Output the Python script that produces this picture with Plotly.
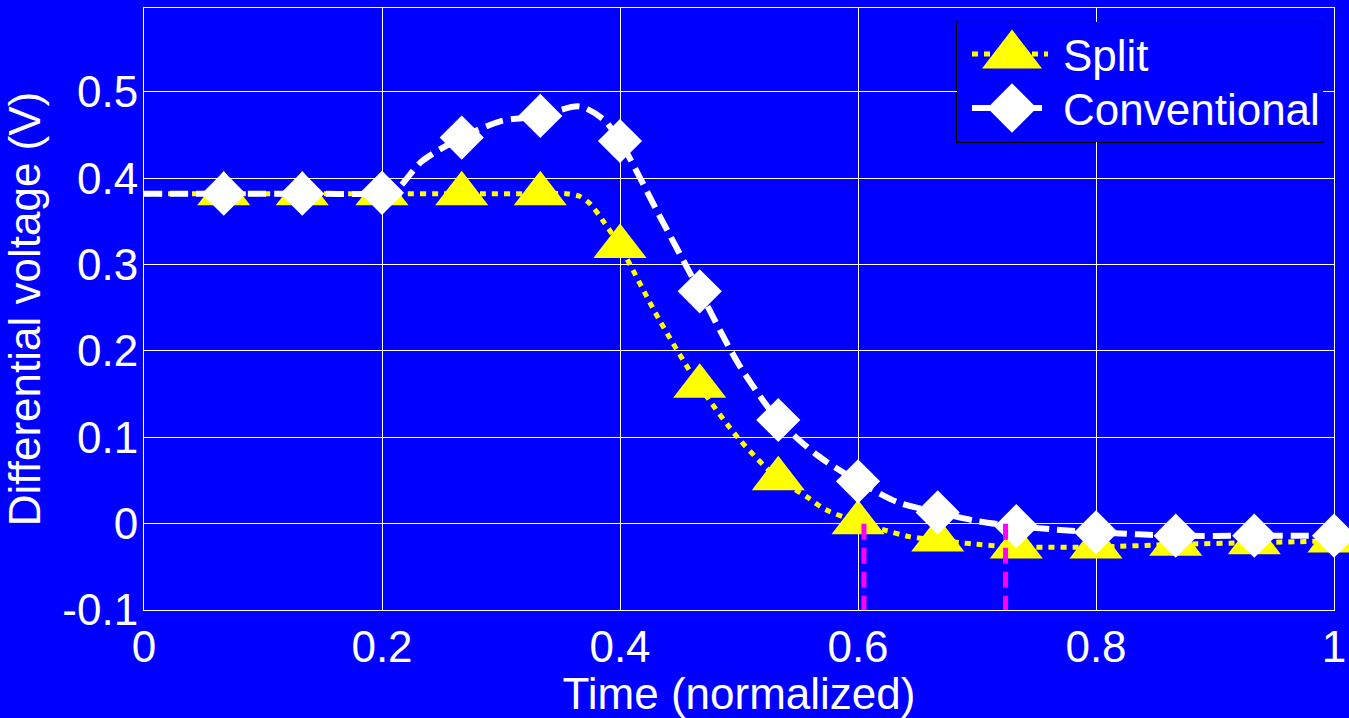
import plotly.graph_objects as go

# ---------------- data ----------------
marker_x = [0.067, 0.133, 0.2, 0.267, 0.333, 0.4, 0.467, 0.533, 0.6, 0.667,
            0.733, 0.8, 0.867, 0.933, 1.0]
split_marker_y = [0.382, 0.382, 0.382, 0.382, 0.382, 0.321, 0.159, 0.052, 0.001,
                  -0.019, -0.027, -0.027, -0.024, -0.022, -0.020]
conv_marker_y = [0.382, 0.382, 0.383, 0.447, 0.472, 0.443, 0.269, 0.120, 0.049,
                 0.013, -0.003, -0.010, -0.014, -0.014, -0.014]

split_curve_x = [0.0, 0.067, 0.133, 0.2, 0.267, 0.333, 0.355, 0.366, 0.375, 0.385,
                 0.4, 0.433, 0.467, 0.5, 0.533, 0.557, 0.573, 0.6, 0.621, 0.643,
                 0.667, 0.7, 0.733, 0.8, 0.867, 0.933, 1.0]
split_curve_y = [0.382, 0.382, 0.382, 0.382, 0.382, 0.382, 0.382, 0.379, 0.370, 0.352,
                 0.321, 0.236, 0.159, 0.098, 0.052, 0.031, 0.016, 0.002, -0.007, -0.015,
                 -0.019, -0.024, -0.027, -0.027, -0.024, -0.022, -0.020]

conv_curve_x = [0.0, 0.067, 0.133, 0.2, 0.213, 0.233, 0.267, 0.3, 0.333, 0.366, 0.386,
                0.4, 0.433, 0.467, 0.5, 0.533, 0.567, 0.6, 0.633, 0.667, 0.7, 0.733,
                0.767, 0.8, 0.867, 0.933, 1.0]
conv_curve_y = [0.382, 0.382, 0.382, 0.383, 0.388, 0.419, 0.447, 0.466, 0.472, 0.483, 0.468,
                0.443, 0.357, 0.269, 0.184, 0.120, 0.078, 0.049, 0.025, 0.013, 0.003, -0.003,
                -0.007, -0.010, -0.014, -0.014, -0.014]

settle_x = [0.605, 0.724]          # magenta settling-time markers
settle_y_top = 0.0
settle_y_bottom = -0.1

x_ticks = [0, 0.2, 0.4, 0.6, 0.8, 1]
x_tick_text = ["0", "0.2", "0.4", "0.6", "0.8", "1"]
y_ticks = [-0.1, 0, 0.1, 0.2, 0.3, 0.4, 0.5]
y_tick_text = ["-0.1", "0", "0.1", "0.2", "0.3", "0.4", "0.5"]

series_names = ["Split", "Conventional"]

# ---------------- styles ----------------
BLUE = "#0000FF"
YELLOW = "#FFFF00"
WHITE = "#FFFFFF"
MAGENTA = "#FF00FF"
FONT = "Liberation Sans, Arial, sans-serif"
FS = 44

fig = go.Figure()

# Split
fig.add_trace(go.Scatter(x=split_curve_x, y=split_curve_y, mode="lines",
                         line=dict(color=YELLOW, width=5, dash="6px,6px", shape="spline", smoothing=0.8),
                         showlegend=False, hoverinfo="skip", cliponaxis=False))
fig.add_trace(go.Scatter(x=marker_x, y=split_marker_y, mode="markers", name=series_names[0],
                         marker=dict(symbol="triangle-up", size=46, color=YELLOW, line=dict(width=0)),
                         showlegend=False, cliponaxis=False))
# Conventional
fig.add_trace(go.Scatter(x=conv_curve_x, y=conv_curve_y, mode="lines",
                         line=dict(color=WHITE, width=6, dash="18px,8px", shape="spline", smoothing=0.8),
                         showlegend=False, hoverinfo="skip", cliponaxis=False))
fig.add_trace(go.Scatter(x=marker_x, y=conv_marker_y, mode="markers", name=series_names[1],
                         marker=dict(symbol="diamond", size=34, color=WHITE, line=dict(width=0)),
                         showlegend=False, cliponaxis=False))

# magenta settling markers
sx, sy = [], []
for v in settle_x:
    sx += [v, v, None]
    sy += [settle_y_top, settle_y_bottom, None]
fig.add_trace(go.Scatter(x=sx, y=sy, mode="lines",
                         line=dict(color=MAGENTA, width=5, dash="16px,8px"),
                         showlegend=False, hoverinfo="skip"))

# ---------------- custom legend in an inset axes (pixel units) ----------------
LX0, LX1 = 0.6832, 0.9908
LY0, LY1 = 0.7774, 0.9767
leg_rows = [(88, YELLOW, 5, "6px,6px", "triangle-up", 52),
            (34, WHITE, 6, "18px,8px", "diamond", 38)]
for (ry, col, lw, dash, sym, ms), nm in zip(leg_rows, series_names):
    fig.add_trace(go.Scatter(x=[15, 91], y=[ry, ry], mode="lines", xaxis="x2", yaxis="y2",
                             line=dict(color=col, width=lw, dash=dash),
                             showlegend=False, hoverinfo="skip"))
    fig.add_trace(go.Scatter(x=[55], y=[ry - 1.5 if sym == "triangle-up" else ry], mode="markers",
                             xaxis="x2", yaxis="y2",
                             marker=dict(symbol=sym, size=ms, color=col, line=dict(width=0)),
                             showlegend=False, hoverinfo="skip"))
    fig.add_annotation(x=104, y=ry - 1, xref="x2", yref="y2", text=nm, showarrow=False,
                       xanchor="left", yanchor="middle",
                       font=dict(family=FONT, size=FS, color=WHITE))

fig.add_shape(type="rect", xref="paper", yref="paper", x0=LX0, x1=LX1, y0=LY0, y1=LY1,
              line=dict(color="black", width=2), fillcolor=BLUE, layer="below")

fig.update_layout(
    width=1349, height=718,
    margin=dict(l=144, r=15, t=8, b=108, autoexpand=False),
    paper_bgcolor=BLUE, plot_bgcolor=BLUE,
    font=dict(family=FONT, size=FS, color=WHITE),
    showlegend=False,
    xaxis=dict(range=[0, 1], tickvals=x_ticks, ticktext=x_tick_text, automargin=False,
               showgrid=True, gridcolor=WHITE, gridwidth=1, zeroline=False,
               showline=True, linecolor=WHITE, linewidth=1, mirror=True,
               ticks="", ticklabelstandoff=-2,
               tickfont=dict(family=FONT, size=FS, color=WHITE),
               title=dict(text="Time (normalized)", standoff=10,
                          font=dict(family=FONT, size=FS, color=WHITE))),
    yaxis=dict(range=[-0.1, 0.597], tickvals=y_ticks, ticktext=y_tick_text, automargin=False,
               showgrid=True, gridcolor=WHITE, gridwidth=1, zeroline=False,
               showline=True, linecolor=WHITE, linewidth=1, mirror=True,
               ticks="", ticklabelstandoff=-4,
               tickfont=dict(family=FONT, size=FS, color=WHITE),
               title=dict(text="Differential voltage (V)", standoff=16,
                          font=dict(family=FONT, size=FS, color=WHITE))),
    xaxis2=dict(domain=[LX0, LX1], range=[0, 366], anchor="y2", visible=False,
                fixedrange=True, automargin=False),
    yaxis2=dict(domain=[LY0, LY1], range=[0, 120], anchor="x2", visible=False,
                fixedrange=True, automargin=False),
)

fig.write_html("out.html",
               config={"displayModeBar": False, "responsive": False},
               post_script="var gd=document.getElementById('{plot_id}');"
                           "gd.style.position='fixed';gd.style.left='0px';gd.style.top='0px';"
                           "document.documentElement.style.overflow='hidden';"
                           "document.body.style.overflow='hidden';"
                           "document.body.style.margin='0';"
                           "document.body.style.padding='0';"
                           "document.body.style.background='#0000FF';"
                           "document.documentElement.style.background='#0000FF';")
